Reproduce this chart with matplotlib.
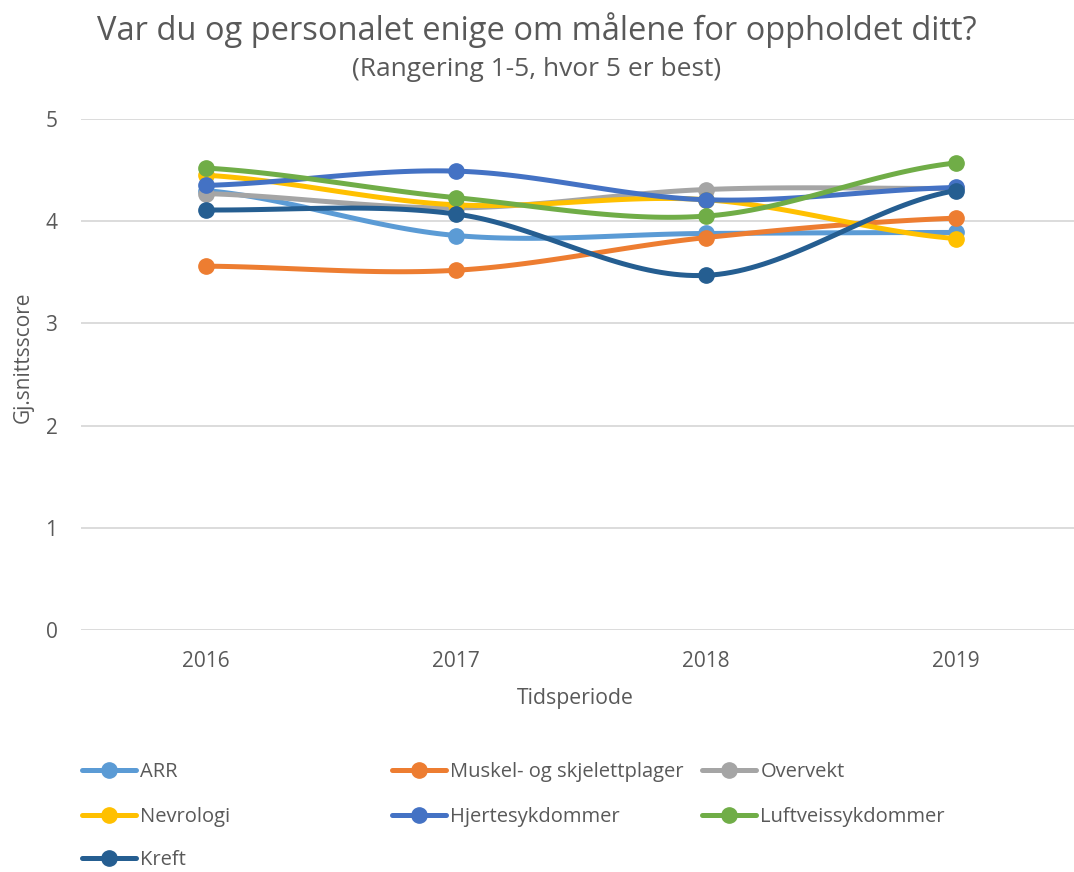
import numpy as np
import matplotlib
matplotlib.use("Agg")
import matplotlib.pyplot as plt
from matplotlib.lines import Line2D

plt.rcParams['font.family'] = ['Open Sans', 'DejaVu Sans']

years = ['2016', '2017', '2018', '2019']
series_names = ['ARR', 'Muskel- og skjelettplager', 'Overvekt', 'Nevrologi',
                'Hjertesykdommer', 'Luftveissykdommer', 'Kreft']
arr = [4.30, 3.86, 3.88, 3.89]
muskel = [3.56, 3.52, 3.84, 4.03]
overvekt = [4.27, 4.13, 4.31, 4.32]
nevrologi = [4.45, 4.16, 4.21, 3.83]
hjerte = [4.35, 4.49, 4.21, 4.33]
luftvei = [4.52, 4.23, 4.05, 4.57]
kreft = [4.11, 4.07, 3.47, 4.30]
colors = ['#5B9BD5', '#ED7D31', '#A5A5A5', '#FFC000', '#4472C4', '#70AD47', '#255E91']
text_col = '#595959'


def smooth(y, n=40):
    # Catmull-Rom style smoothing, like Excel's "smoothed line"
    y = np.asarray(y, dtype=float)
    x = np.arange(len(y), dtype=float)
    m = np.zeros_like(y)
    m[1:-1] = (y[2:] - y[:-2]) / 2
    m[0] = (y[1] - y[0]) / 2
    m[-1] = (y[-1] - y[-2]) / 2
    xs, ys = [], []
    for i in range(len(y) - 1):
        t = np.linspace(0, 1, n)
        h00 = 2 * t**3 - 3 * t**2 + 1
        h10 = t**3 - 2 * t**2 + t
        h01 = -2 * t**3 + 3 * t**2
        h11 = t**3 - t**2
        xs.append(x[i] + t)
        ys.append(h00 * y[i] + h10 * m[i] + h01 * y[i + 1] + h11 * m[i + 1])
    return np.concatenate(xs), np.concatenate(ys)


W, H = 1074, 872
fig = plt.figure(figsize=(W / 100, H / 100), dpi=100)
ax = fig.add_axes([81 / W, 1 - 630 / H, 1000 / W, 511 / H])

data = [arr, muskel, overvekt, nevrologi, hjerte, luftvei, kreft]
x = np.arange(len(years))
for name, vals, c in zip(series_names, data, colors):
    sx, sy = smooth(vals)
    ax.plot(sx, sy, color=c, lw=3.6, solid_capstyle='round', zorder=3)
    ax.plot(x, vals, 'o', color=c, ms=11, zorder=3)

ax.set_xlim(-0.5, 3.5)
ax.set_ylim(0, 5)
ax.set_yticks(range(6))
ax.set_xticks(x)
ax.set_xticklabels(years)
ax.grid(axis='y', color='#D9D9D9', lw=1.3)
ax.set_axisbelow(True)
for s in ax.spines.values():
    s.set_visible(False)
ax.tick_params(length=0, labelsize=15, colors=text_col)
ax.tick_params(axis='x', pad=15)
ax.tick_params(axis='y', pad=17)

fig.text(575 / W, 1 - 698 / H, 'Tidsperiode', ha='center', va='center',
         fontsize=15.3, color=text_col)
fig.text(23 / W, 1 - 357 / H, 'Gj.snittsscore', ha='center', va='center',
         rotation=90, fontsize=15, color=text_col)

fig.text(0.5, 1 - 30 / H, 'Var du og personalet enige om målene for oppholdet ditt?',
         ha='center', va='center', fontsize=23.5, color=text_col)
fig.text(0.5, 1 - 70 / H, '(Rangering 1-5, hvor 5 er best)',
         ha='center', va='center', fontsize=19, color=text_col)

# legend laid out in fixed columns like the original
leg_x = [82, 392, 702]
leg_y = [772, 817, 860]
for i, (name, c) in enumerate(zip(series_names, colors)):
    col, row = i % 3, i // 3
    h = Line2D([], [], color=c, lw=3.6, marker='o', ms=11, solid_capstyle='round')
    fig.legend(handles=[h], labels=[name], loc='center left',
               bbox_to_anchor=(leg_x[col] / W, 1 - leg_y[row] / H),
               frameon=False, fontsize=14.5, handlelength=2.7, handletextpad=0.2,
               borderpad=0, borderaxespad=0, labelcolor=text_col)

fig.savefig('out.png', dpi=100)
